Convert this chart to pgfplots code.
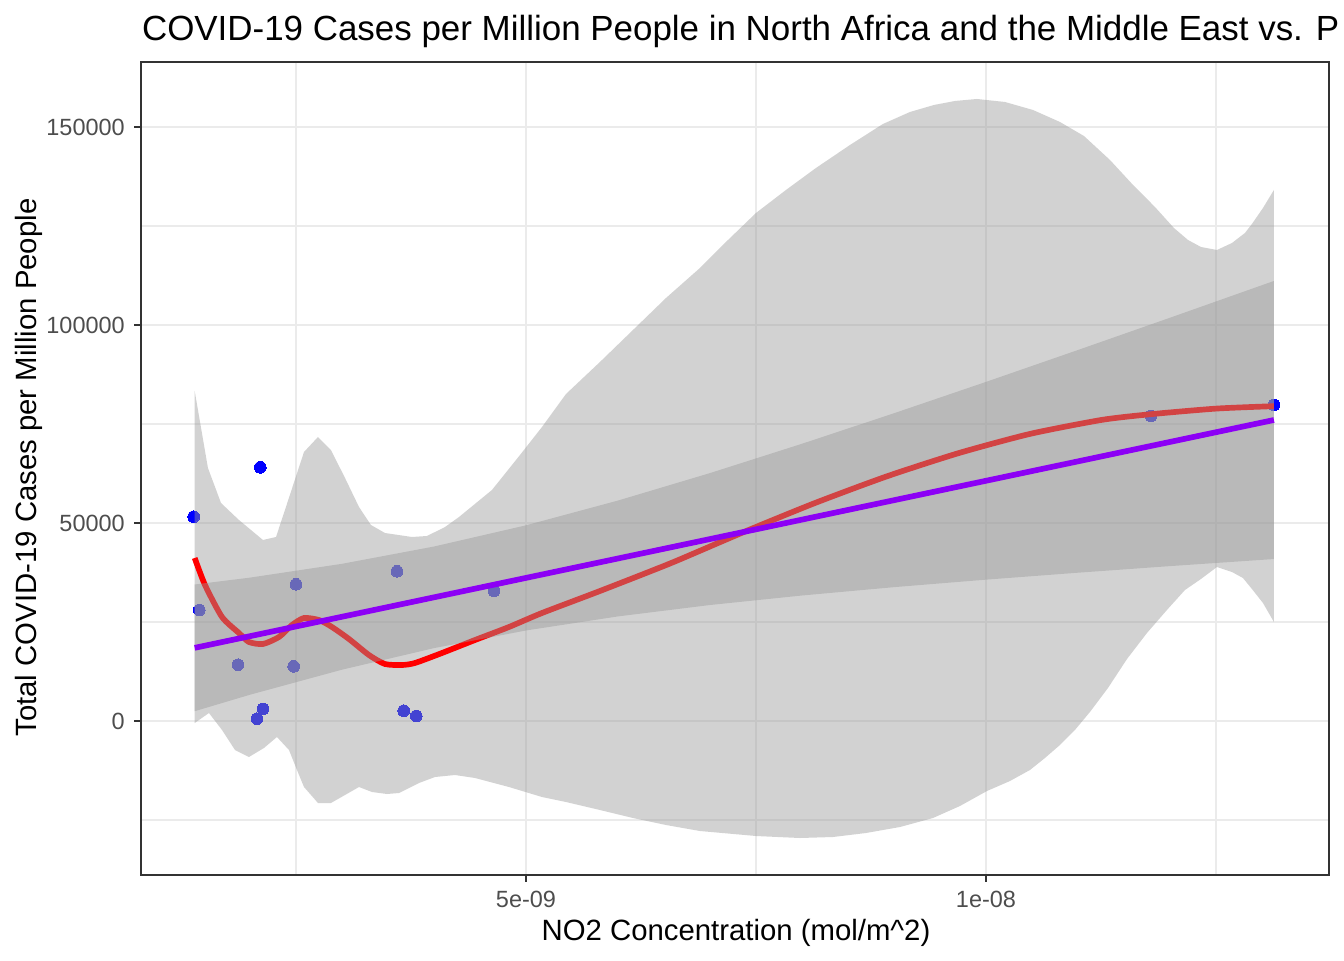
\documentclass[border=0pt]{standalone}
\usepackage{pgfplots}
\pgfplotsset{compat=1.18}
\usepackage{fontspec}
\setmainfont{Liberation Sans}
\definecolor{grid92}{RGB}{235,235,235}
\definecolor{gray20}{RGB}{51,51,51}
\definecolor{gray30}{RGB}{77,77,77}
\definecolor{ribbon}{RGB}{153,153,153}
\definecolor{lmpurple}{RGB}{140,0,245}
\definecolor{ptblue}{RGB}{0,0,255}
\definecolor{loessred}{RGB}{255,0,0}
\begin{document}
\begin{tikzpicture}
\path[use as bounding box] (0,0) rectangle (504pt,360pt);
\begin{axis}[
  at={(53.06pt,32.06pt)}, anchor=south west,
  scale only axis, width=445.5pt, height=304.7pt,
  xmin=0.8207, xmax=13.734, ymin=-38763, ymax=166414,
  xtick={5,10}, xticklabels={5e-09,1e-08},
  ytick={0,50000,100000,150000}, yticklabels={0,50000,100000,150000},
  minor xtick={2.5,7.5,12.5}, minor ytick={-25000,25000,75000,125000},
  grid=both,
  major grid style={grid92, line width=1.07pt},
  minor grid style={grid92, line width=0.53pt},
  minor tick length=0pt,
  major tick length=2.75pt,
  tick align=outside, tick pos=left,
  tick style={gray20, line width=1.07pt},
  axis line style={gray20, line width=0.75pt},
  ticklabel style={font=\fontsize{8.8}{10}\selectfont, text=gray30},
  scaled y ticks=false,
  clip marker paths=true,
]
% data points
\addplot[ptblue, only marks, mark=*, mark size=2.2pt, mark options={ptblue, line width=0pt}] table {
x y
1.388 51591
1.449 28030
1.870 14217
2.112 64066
2.076 581
2.141 3030
2.500 34520
2.475 13813
3.598 37803
3.671 2601
3.808 1263
4.652 32828
11.793 77020
13.130 79798
};
% loess ribbon (upper then lower reversed)
\addplot[draw=none, fill=ribbon, fill opacity=0.44] table {
x y
1.399 83333
1.543 63889
1.685 55051
1.880 50758
2.141 45707
2.283 46465
2.380 53283
2.587 67929
2.739 71717
2.880 68434
3.033 61364
3.185 54040
3.315 49495
3.467 47475
3.761 46465
3.924 46717
4.120 48990
4.272 51515
4.630 58333
4.935 67172
5.174 74242
5.435 82576
5.804 90657
6.163 98737
6.522 106818
6.891 114394
7.196 121465
7.500 128283
7.826 134091
8.152 139646
8.522 145455
8.880 150758
9.174 153788
9.435 155556
9.663 156566
9.902 157071
10.207 156313
10.511 154293
10.804 151263
11.065 147727
11.348 141667
11.609 135101
11.837 129798
12.043 124495
12.196 121465
12.337 119697
12.511 118939
12.674 120707
12.815 123232
12.891 125505
13.011 129545
13.130 134091
13.130 25000
13.011 29798
12.891 33333
12.793 36111
12.674 37626
12.511 38889
12.337 35859
12.163 33081
11.967 28030
11.750 22222
11.533 15657
11.326 8333
11.130 2273
10.967 -2273
10.804 -6061
10.641 -9343
10.478 -12374
10.261 -15152
10.011 -17677
9.717 -21465
9.424 -24495
9.065 -26768
8.696 -28283
8.337 -29293
7.978 -29545
7.500 -29040
6.891 -27778
6.522 -26263
6.163 -24495
5.804 -22475
5.435 -20455
5.174 -19192
4.815 -16667
4.446 -14394
4.228 -13636
4.011 -14141
3.837 -15657
3.620 -18182
3.489 -18434
3.326 -17929
3.185 -16667
3.033 -18687
2.880 -20707
2.739 -20707
2.587 -16667
2.511 -12374
2.424 -7323
2.293 -4040
2.152 -6818
1.989 -9091
1.837 -7323
1.696 -2273
1.554 2020
1.399 -505
};
% loess line
\addplot[loessred, line width=2.13pt, smooth, tension=0.4] table {
x y
1.399 41162
1.511 34343
1.696 26263
1.880 22222
1.989 19949
2.141 19444
2.315 21212
2.457 24242
2.587 26010
2.750 25505
2.891 23737
3.076 20707
3.293 16667
3.467 14394
3.652 14141
3.793 14646
4.087 17172
4.446 20455
4.815 23737
5.174 27273
5.804 32828
6.584 39949
7.363 47677
8.142 55051
8.921 61768
9.700 67626
10.479 72500
11.259 76035
11.804 77500
12.511 78900
13.130 79500
};
% lm ribbon
\addplot[draw=none, fill=ribbon, fill opacity=0.44] table {
x y
1.399 34473
2 36211
3 39696
4 44061
5 49416
6 55671
7 62606
8 70011
9 77716
10 85631
11 93686
12 101831
13.13 111120
13.13 40900
12 39111
11 37446
10 35691
9 33796
8 31691
7 29286
6 26411
5 22856
4 18401
3 12956
2 6631
1.399 2473
};
% lm line
\addplot[lmpurple, line width=2.13pt] table {
x y
1.399 18473
13.13 76010
};
\end{axis}
\node[anchor=base west, inner sep=0pt, font=\fontsize{13.1}{15}\selectfont] at (53.06pt,344.7pt) {COVID-19 Cases per Million People in North Africa and the Middle East vs. P};
\node[anchor=base, inner sep=0pt, font=\fontsize{11}{13}\selectfont] at (276pt,7.5pt) {NO2 Concentration (mol/m\textasciicircum 2)};
\node[anchor=base, rotate=90, inner sep=0pt, font=\fontsize{11}{13}\selectfont] at (13.5pt,184.7pt) {Total COVID-19 Cases per Million People};
\end{tikzpicture}
\end{document}
